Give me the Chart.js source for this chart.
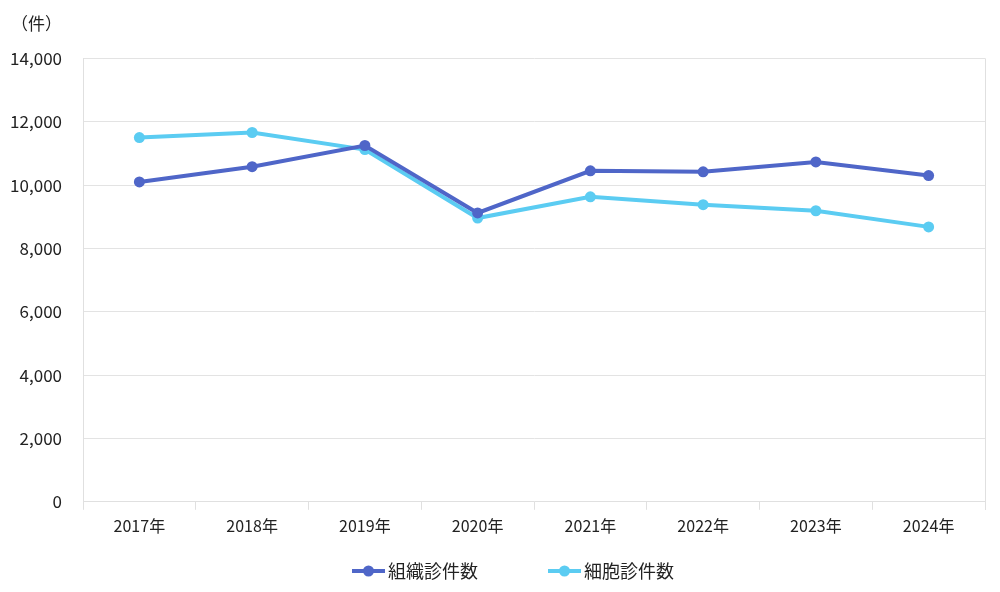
<!DOCTYPE html>
<html>
<head>
<meta charset="utf-8">
<script src="https://cdn.jsdelivr.net/npm/chart.js@4/dist/chart.umd.min.js"></script>
<style>
  html, body { margin: 0; padding: 0; background: #fff; }
  #wrap { width: 1000px; height: 592px; }
</style>
</head>
<body>
<div id="wrap"><canvas id="chart"></canvas></div>
<script>
const years = ['2017年','2018年','2019年','2020年','2021年','2022年','2023年','2024年'];
const soshiki = [10100, 10580, 11250, 9120, 10450, 10420, 10730, 10300];
const saibou = [11500, 11660, 11120, 8960, 9630, 9380, 9190, 8680];
const seriesNames = ['組織診件数', '細胞診件数'];
const seriesColors = ['#4F66C8', '#5BCCF2'];

const FONT = '"Noto Sans CJK JP", "Noto Sans", sans-serif';

// right edge line of the plot box
const rightBorder = {
  id: 'rightBorder',
  afterDraw(chart) {
    const a = chart.chartArea, ctx = chart.ctx;
    ctx.save();
    ctx.strokeStyle = '#e0e0e0';
    ctx.lineWidth = 1;
    ctx.beginPath();
    ctx.moveTo(a.right + 0.5, a.top);
    ctx.lineTo(a.right + 0.5, a.bottom + 8);
    ctx.stroke();
    ctx.restore();
  }
};

// legend below the chart: line + dot marker, wide gap between items
const lineLegend = {
  id: 'lineLegend',
  afterDraw(chart) {
    const ctx = chart.ctx;
    const y = chart.height - 21;
    const markW = 33, gapText = 3, gapItems = 70;
    ctx.save();
    ctx.font = '18px ' + FONT;
    const widths = chart.data.datasets.map(d => ctx.measureText(d.label).width);
    const total = widths.reduce((s, w) => s + markW + gapText + w, 0) + gapItems * (widths.length - 1);
    let x = (chart.width - total) / 2 + 13;
    chart.data.datasets.forEach((d, i) => {
      const c = d.borderColor;
      ctx.strokeStyle = c;
      ctx.lineWidth = 4;
      ctx.beginPath();
      ctx.moveTo(x, y); ctx.lineTo(x + markW, y);
      ctx.stroke();
      ctx.fillStyle = c;
      ctx.beginPath();
      ctx.arc(x + markW / 2, y, 5.5, 0, Math.PI * 2);
      ctx.fill();
      ctx.fillStyle = '#222';
      ctx.textBaseline = 'middle';
      ctx.textAlign = 'left';
      ctx.fillText(d.label, x + markW + gapText, y);
      x += markW + gapText + widths[i] + gapItems;
    });
    ctx.restore();
  }
};

new Chart(document.getElementById('chart'), {
  type: 'line',
  data: {
    labels: years,
    datasets: [
      { label: seriesNames[0], data: soshiki, borderColor: seriesColors[0], backgroundColor: seriesColors[0] },
      { label: seriesNames[1], data: saibou, borderColor: seriesColors[1], backgroundColor: seriesColors[1] }
    ]
  },
  options: {
    responsive: true,
    maintainAspectRatio: false,
    animation: false,
    layout: { padding: { left: 11, right: 15, top: 10, bottom: 49 } },
    elements: {
      line: { borderWidth: 4, tension: 0 },
      point: { radius: 5.5, hoverRadius: 5.5, borderWidth: 0 }
    },
    scales: {
      x: {
        offset: true,
        grid: { drawOnChartArea: false, color: '#e0e0e0', tickLength: 8, offset: true },
        border: { color: '#e0e0e0' },
        ticks: { color: '#222', font: { family: FONT, size: 16 }, padding: 7 }
      },
      y: {
        min: 0, max: 14000,
        grid: { color: '#e3e3e3', tickLength: 0 },
        border: { color: '#e0e0e0' },
        afterFit(scale) { scale.width = 72; },
        ticks: {
          stepSize: 2000, color: '#222', padding: 21,
          font: { family: FONT, size: 17 },
          callback: v => v.toLocaleString('en-US')
        }
      }
    },
    plugins: {
      title: {
        display: true, text: '（件）', align: 'start',
        color: '#222', font: { family: FONT, size: 17, weight: 'normal' },
        padding: { top: 3, bottom: 25 }
      },
      legend: { display: false },
      tooltip: { enabled: false }
    }
  },
  plugins: [rightBorder, lineLegend]
});
</script>
</body>
</html>
